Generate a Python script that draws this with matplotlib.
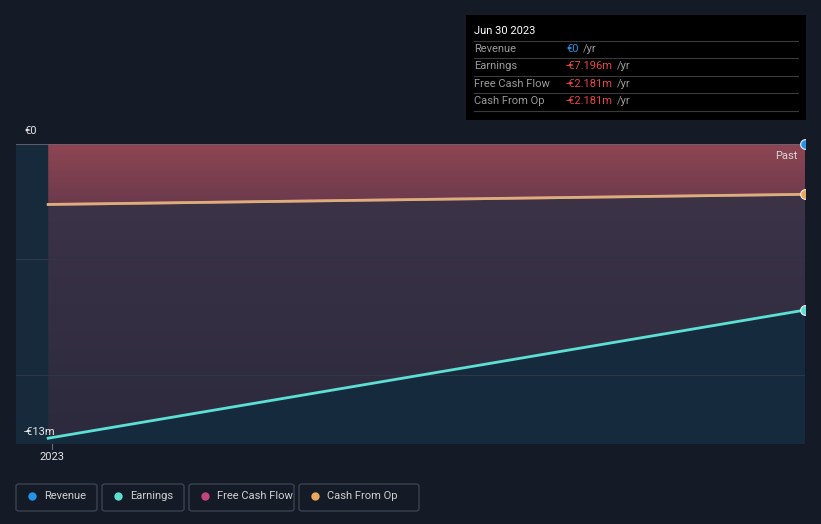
import numpy as np
import pandas as pd
import matplotlib
matplotlib.use("Agg")
import matplotlib.pyplot as plt
import matplotlib.dates as mdates
from matplotlib.colors import LinearSegmentedColormap
from matplotlib.patches import FancyBboxPatch, Rectangle

plt.rcParams['font.family'] = ['Roboto', 'DejaVu Sans']

# data (€m)
dates = pd.to_datetime(["2022-12-31", "2023-06-30"])
revenue = [0.0, 0.0]
earnings = [-12.75, -7.196]
free_cash_flow = [-2.62, -2.181]
cash_from_op = [-2.62, -2.181]

legend_labels = ["Revenue", "Earnings", "Free Cash Flow", "Cash From Op"]
legend_colors = ["#2394e8", "#5ce0d4", "#c2457f", "#e8a75a"]

tooltip_title = "Jun 30 2023"
tooltip_rows = [("Revenue", "€0", "#2394e8"),
                ("Earnings", "-€7.196m", "#e84545"),
                ("Free Cash Flow", "-€2.181m", "#e84545"),
                ("Cash From Op", "-€2.181m", "#e84545")]

BG = "#151b26"
W, H = 821, 524


def fx(px):
    return px / W


def fy(py):
    return 1 - py / H


fig = plt.figure(figsize=(W / 100, H / 100), dpi=100, facecolor=BG)
ax = fig.add_axes([fx(16), fy(444), fx(805) - fx(16), fy(144) - fy(444)])
ax.set_facecolor("#162a3d")

x0 = dates[0] - pd.Timedelta(days=7.7)
ax.set_xlim(x0, dates[-1])
ax.set_ylim(-13, 0)

xn = mdates.date2num(dates)

# left band before data
ax.axvspan(x0, dates[0], color="#172a3c", zorder=0)

# red gradient between 0 and cash from op
poly = ax.fill_between(dates, revenue, cash_from_op, color="none", lw=0)
grad = np.linspace(1, 0, 100).reshape(-1, 1)
cm_red = LinearSegmentedColormap.from_list("r", ["#6a3a4c", "#8f4553"])
im = ax.imshow(grad, cmap=cm_red, aspect="auto", origin="upper",
               extent=[xn[0], xn[-1], -2.7, 0], zorder=1)
im.set_clip_path(poly.get_paths()[0], transform=ax.transData)

# purple area between cash from op and earnings
poly2 = ax.fill_between(dates, cash_from_op, earnings, color="none", lw=0)
cm_pur = LinearSegmentedColormap.from_list("p", ["#2c2a3e", "#3c3347"])
im2 = ax.imshow(grad, cmap=cm_pur, aspect="auto", origin="upper",
                extent=[xn[0], xn[-1], -13, -2.1], zorder=1)
im2.set_clip_path(poly2.get_paths()[0], transform=ax.transData)

# gridlines
for g in [-5, -10]:
    ax.axhline(g, color="#2f3645", lw=0.8, zorder=2)
ax.axhline(0, color="#6a6478", lw=1.2, zorder=3)

# lines
ax.plot(dates, free_cash_flow, color=legend_colors[2], lw=2, zorder=4)
ax.plot(dates, cash_from_op, color="#d9b07a", lw=2, zorder=5)
ax.plot(dates, earnings, color=legend_colors[1], lw=2, zorder=5)

# end markers, cut off at the right edge only
clip_box = Rectangle((-0.1, -0.1), 1.1, 1.2, transform=ax.transAxes)
for vals, c in [(revenue, legend_colors[0]), (cash_from_op, legend_colors[3]),
                (earnings, legend_colors[1])]:
    m, = ax.plot(dates[-1:], vals[-1:], "o", color=c, ms=7, mec="#f0f0f0",
                 mew=0.8, zorder=6)
    m.set_clip_path(clip_box)

for s in ax.spines.values():
    s.set_visible(False)
ax.set_xticks([])
ax.set_yticks([])

# axis texts
fig.text(fx(24), fy(131), "€0", color="#e6e6e6", fontsize=8, va="center")
fig.text(fx(24), fy(432), "-€13m", color="#e6e6e6", fontsize=8, va="center")
fig.text(fx(52), fy(457), "2023", color="#e6e6e6", fontsize=8, va="center", ha="center")
fig.add_artist(plt.Line2D([fx(52), fx(52)], [fy(444), fy(449)], color="#6a6e78", lw=0.8))
fig.text(fx(797), fy(156), "Past", color="#d8d8d8", fontsize=8, va="center", ha="right")

# tooltip
fig.add_artist(Rectangle((fx(466), fy(120)), fx(806) - fx(466), fy(15) - fy(120),
                         facecolor="#000000", edgecolor="none", transform=fig.transFigure))
fig.text(fx(474), fy(31), tooltip_title, color="#ffffff", fontsize=8, va="center")
line_ys = [41, 58, 76, 93, 111]
for ly in line_ys:
    fig.add_artist(plt.Line2D([fx(474), fx(798)], [fy(ly), fy(ly)], color="#3a3a3a", lw=0.8))
row_ys = [49, 66, 84, 101]
for (lab, val, vc), ry in zip(tooltip_rows, row_ys):
    fig.text(fx(474), fy(ry), lab, color="#9a9a9a", fontsize=8, va="center")
    t = fig.text(fx(566), fy(ry), val, color=vc, fontsize=8, va="center")
    fig.canvas.draw()
    bb = t.get_window_extent()
    fig.text((bb.x1 + 4) / W, fy(ry), "/yr", color="#9a9a9a", fontsize=8, va="center")

# legend boxes
boxes = [(16, 97), (102, 184), (189, 294), (299, 419)]
for (bx0, bx1), lab, c in zip(boxes, legend_labels, legend_colors):
    fig.add_artist(FancyBboxPatch((fx(bx0), fy(511)), fx(bx1) - fx(bx0), fy(484) - fy(511),
                                  boxstyle="round,pad=0,rounding_size=0.004",
                                  facecolor="none", edgecolor="#3a4150", lw=1,
                                  transform=fig.transFigure))
    fig.add_artist(plt.Line2D([fx(bx0 + 16)], [fy(496)], marker="o", color=c, ms=6,
                              mec="none", transform=fig.transFigure))
    fig.text(fx(bx0 + 28), fy(496), lab, color="#d0d0d0", fontsize=8, va="center")

fig.savefig("out.png", dpi=100, facecolor=BG)
